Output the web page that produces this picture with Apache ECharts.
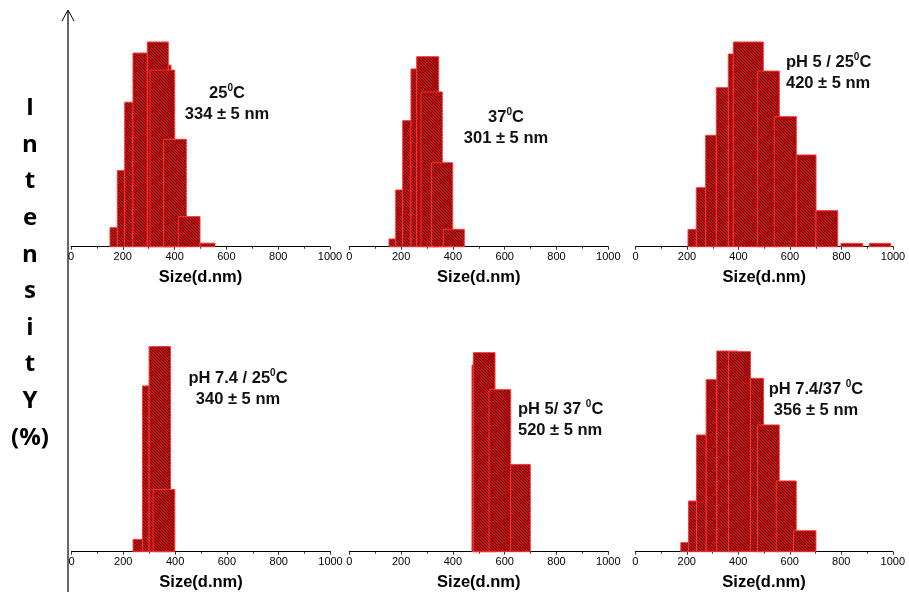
<!DOCTYPE html>
<html><head><meta charset="utf-8">
<script src="https://cdn.jsdelivr.net/npm/echarts@6/dist/echarts.min.js"></script>
<style>html,body{margin:0;padding:0;background:#fff}#c{width:909px;height:592px}</style>
</head><body><div id="c"></div>
<script>
// ---- data (size in nm, intensity in %) ----
const xTicks = [0, 200, 400, 600, 800, 1000];
const p1Left   = [150.6, 178.8, 207.3, 239.4, 294.6, 375.7, 305.0, 357.8, 414.0, 498.1];
const p1Right  = [178.8, 207.3, 239.4, 294.6, 375.7, 386.1, 400.4, 445.2, 498.1, 556.0];
const p1Height = [1.9, 7.6, 14.4, 19.3, 20.4, 18.1, 17.6, 10.7, 3.0, 0.35];

const p2Left   = [153.3, 179.2, 206.2, 238.2, 260.2, 276.8, 318.0, 363.0];
const p2Right  = [179.2, 206.2, 238.2, 260.2, 345.2, 359.1, 399.2, 444.0];
const p2Height = [0.77, 5.65, 12.56, 17.72, 18.94, 15.42, 8.37, 1.73];

const p3Left   = [203.9, 236.1, 272.6, 313.8, 360.4, 379.8, 473.0, 539.0, 624.5, 701.0, 798.1, 908.0];
const p3Right  = [236.1, 272.6, 313.8, 360.4, 379.8, 496.3, 558.4, 624.5, 701.0, 785.2, 882.3, 991.0];
const p3Height = [1.72, 5.88, 11.1, 15.85, 19.2, 20.4, 17.5, 12.96, 9.14, 3.59, 0.33, 0.33];

const p4Left   = [237.8, 274.1, 299.6, 315.0];
const p4Right  = [274.1, 299.6, 382.2, 398.8];
const p4Height = [1.23, 16.52, 20.44, 6.21];

const p5Left   = [473.7, 478.8, 539.4, 623.2];
const p5Right  = [540.0, 562.5, 623.2, 698.8];
const p5Height = [18.6, 19.84, 16.15, 8.7];

const p6Left   = [176.8, 206.4, 237.5, 275.2, 316.7, 361.8, 447.3, 474.5, 547.2, 614.5];
const p6Right  = [206.4, 237.5, 275.2, 316.7, 398.4, 447.3, 497.9, 558.9, 624.9, 701.5];
const p6Height = [0.9, 5.05, 11.63, 17.15, 20.0, 19.94, 17.28, 12.63, 7.05, 2.09];

const panelLabels = [
  ['25{s|0}C', '334 ± 5 nm'],
  ['37{s|0}C', '301 ± 5 nm'],
  ['pH 5 / 25{s|0}C', '420 ± 5 nm'],
  ['pH 7.4 / 25{s|0}C', '340 ± 5 nm'],
  ['pH 5/ 37 {s|0}C', '520 ± 5 nm'],
  ['pH 7.4/37 {s|0}C', '356 ± 5 nm']
];
const axisTitle = 'Size(d.nm)';
const yTitle = ['I','n','t','e','n','s','i','t','Y','(%)'];

// ---- hatch pattern ----
const pc = document.createElement('canvas');
pc.width = 3; pc.height = 3;
const g = pc.getContext('2d');
g.fillStyle = '#f40000'; g.fillRect(0,0,3,3);
g.fillStyle = '#000';
g.fillRect(0,0,1,1); g.fillRect(1,1,1,1); g.fillRect(2,2,1,1);
const hatch = {image: pc, repeat: 'repeat'};

const panels = [
  [p1Left, p1Right, p1Height], [p2Left, p2Right, p2Height], [p3Left, p3Right, p3Height],
  [p4Left, p4Right, p4Height], [p5Left, p5Right, p5Height], [p6Left, p6Right, p6Height]
];
const gridPos = [
  {left: 71, top: 36, width: 259, height: 210.7},
  {left: 349.3, top: 36, width: 259, height: 210.7},
  {left: 635.5, top: 36, width: 257.5, height: 210.7},
  {left: 71.5, top: 341, width: 259, height: 210.7},
  {left: 349.3, top: 341, width: 259, height: 210.7},
  {left: 635.3, top: 341, width: 257.5, height: 210.7}
];
const labelPos = [
  {x: 227, y: 104, align: 'center'},
  {x: 506, y: 128, align: 'center'},
  {x: 786, y: 73, align: 'left'},
  {x: 238, y: 389, align: 'center'},
  {x: 518, y: 420, align: 'left'},
  {x: 816, y: 400, align: 'center'}
];

const grids = [], xAxes = [], yAxes = [], series = [], graphics = [];
panels.forEach((p, i) => {
  grids.push(gridPos[i]);
  xAxes.push({
    type: 'value', gridIndex: i, min: xTicks[0], max: xTicks[xTicks.length-1], interval: 200,
    name: axisTitle, nameLocation: 'middle', nameGap: 22,
    nameTextStyle: {fontFamily: 'Liberation Sans', fontWeight: 'bold', fontSize: 16.5, color: '#000'},
    axisLine: {show: true, onZero: false, lineStyle: {color: '#000', width: 1}},
    axisTick: {show: true, length: 3, lineStyle: {color: '#333'}},
    minorTick: {show: true, splitNumber: 2, length: 2, lineStyle: {color: '#333'}},
    splitLine: {show: false},
    axisLabel: {fontFamily: 'Liberation Sans', fontSize: 11, color: '#000', margin: 5,
      formatter: function (v) { return String(v); }}
  });
  yAxes.push({type: 'value', gridIndex: i, min: 0, max: 21, show: false});
  const data = p[0].map((l, k) => [l, p[1][k], p[2][k]]);
  series.push({
    type: 'custom', xAxisIndex: i, yAxisIndex: i, data: data,
    encode: {x: [0, 1], y: 2},
    renderItem: function (params, api) {
      const a = api.coord([api.value(0), api.value(2)]);
      const b = api.coord([api.value(1), 0]);
      return {type: 'rect', shape: {x: a[0], y: a[1], width: b[0]-a[0], height: b[1]-a[1]},
        style: {fill: hatch, stroke: '#ff3838', lineWidth: 1}};
    }
  });
  const lp = labelPos[i];
  graphics.push({
    type: 'text', x: lp.x, y: lp.y, z: 10,
    style: {
      text: panelLabels[i].join('\n'),
      align: lp.align, verticalAlign: 'middle',
      fontFamily: 'Liberation Sans', fontWeight: 'bold', fontSize: 16.5, lineHeight: 21, fill: '#111',
      rich: {s: {fontFamily: 'Liberation Sans', fontWeight: 'bold', fontSize: 10, verticalAlign: 'top', lineHeight: 21, fill: '#111'}}
    }
  });
});

// long vertical axis with arrow
graphics.push({type: 'polyline', shape: {points: [[68, 11], [68, 592]]}, style: {stroke: '#000', lineWidth: 1.2}});
graphics.push({type: 'polyline', shape: {points: [[62, 21], [68, 10], [74, 21]]}, style: {stroke: '#000', lineWidth: 1, fill: null}});
graphics.push({
  type: 'text', x: 30, y: 273,
  style: {text: yTitle.join('\n'), align: 'center', verticalAlign: 'middle',
    fontFamily: 'Open Sans', fontWeight: 'bold', fontSize: 24, lineHeight: 36.6, fill: '#000'}
});

const chart = echarts.init(document.getElementById('c'), null, {renderer: 'canvas'});
chart.setOption({
  animation: false,
  backgroundColor: '#fff',
  grid: grids, xAxis: xAxes, yAxis: yAxes, series: series, graphic: graphics
});
</script></body></html>
